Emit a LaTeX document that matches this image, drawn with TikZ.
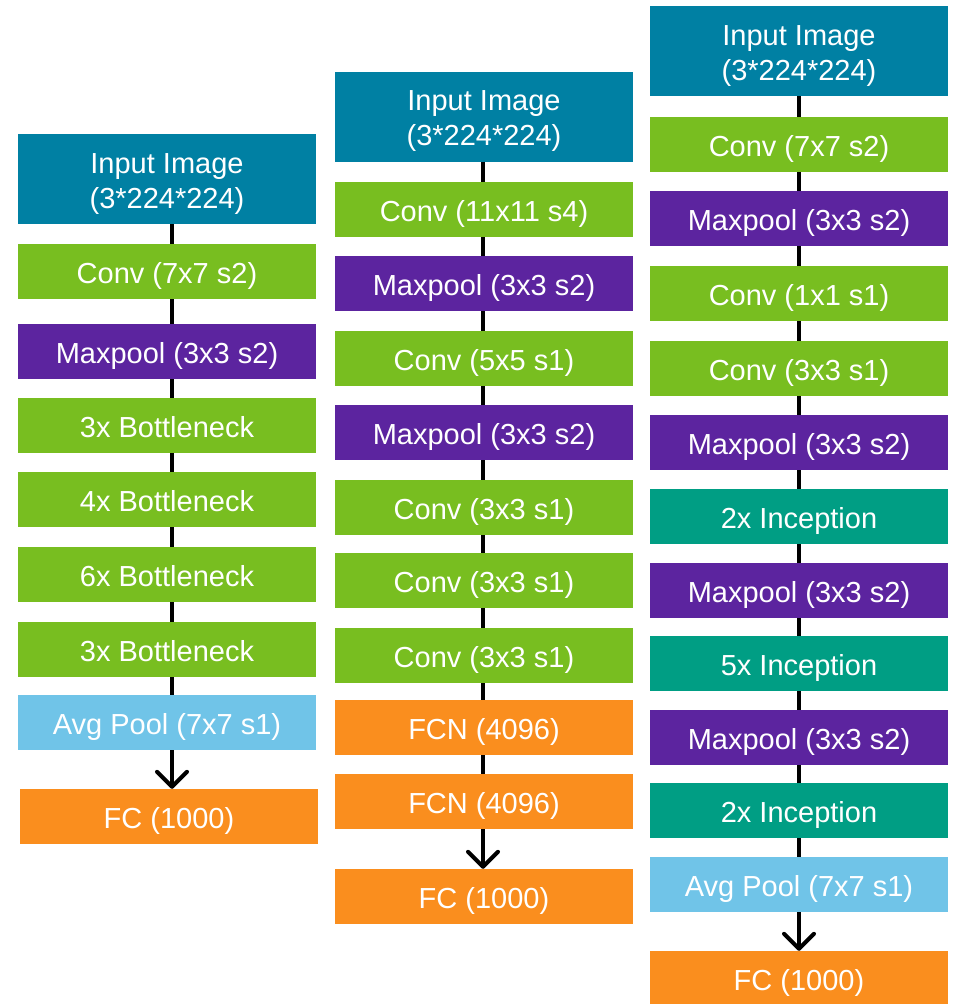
\documentclass[tikz,border=0pt]{standalone}
\usepackage{fontspec}
\setmainfont{Liberation Sans}
\usepackage{xcolor}
\usetikzlibrary{arrows.meta, positioning}

\definecolor{inputblue}{RGB}{0,128,163}
\definecolor{convgreen}{RGB}{120,190,32}
\definecolor{poolpurple}{RGB}{92,36,159}
\definecolor{inceptgreen}{RGB}{0,158,132}
\definecolor{avgblue}{RGB}{112,196,232}
\definecolor{fcorange}{RGB}{250,142,30}

\tikzset{
  layer/.style={minimum width=298pt, minimum height=55pt, inner sep=0pt, text=white,
    font=\fontsize{29}{35}\selectfont, align=center, text height=26pt, text depth=3pt},
  inimg/.style={layer, fill=inputblue, minimum height=90pt, text height=61pt, text depth=3pt},
  conv/.style={layer, fill=convgreen},
  pool/.style={layer, fill=poolpurple},
  incep/.style={layer, fill=inceptgreen},
  avg/.style={layer, fill=avgblue},
  fc/.style={layer, fill=fcorange},
  link/.style={line width=4pt},
  lastlink/.style={link, -{Straight Barb[length=15pt,width=30pt,line cap=round,line join=round]}}
}

\begin{document}
\begin{tikzpicture}[x=1pt, y=-1pt]
\useasboundingbox (0,0) rectangle (957,1004);
% first column
\foreach \i/\y/\s/\t in {1/179/inimg/{Input Image\\(3*224*224)}, 2/271.5/conv/{Conv (7x7 s2)},
  3/351.5/pool/{Maxpool (3x3 s2)}, 4/425.5/conv/{3x Bottleneck}, 5/499.5/conv/{4x Bottleneck},
  6/574.5/conv/{6x Bottleneck}, 7/649.5/conv/{3x Bottleneck}, 8/722.5/avg/{Avg Pool (7x7 s1)}}
  \node[\s] (a\i) at (167,\y) {\t};
\node[fc] (a9) at (169,816.5) {FC (1000)};
\foreach \i [count=\k from 2] in {1,...,7} \draw[link] ([xshift=5pt]a\i.south) -- ([xshift=5pt]a\k.north);
\draw[lastlink] ([xshift=5pt]a8.south) -- ([xshift=5pt]a8.south |- a9.north);
% second column
\foreach \i/\y/\s/\t in {1/116.5/inimg/{Input Image\\(3*224*224)}, 2/209.5/conv/{Conv (11x11 s4)},
  3/283.5/pool/{Maxpool (3x3 s2)}, 4/358.5/conv/{Conv (5x5 s1)}, 5/432.5/pool/{Maxpool (3x3 s2)},
  6/507.5/conv/{Conv (3x3 s1)}, 7/580.5/conv/{Conv (3x3 s1)}, 8/655.5/conv/{Conv (3x3 s1)},
  9/727.5/fc/{FCN (4096)}, 10/801.5/fc/{FCN (4096)}, 11/896.5/fc/{FC (1000)}}
  \node[\s] (b\i) at (484,\y) {\t};
\foreach \i [count=\k from 2] in {1,...,9} \draw[link] ([xshift=-1pt]b\i.south) -- ([xshift=-1pt]b\k.north);
\draw[lastlink] ([xshift=-1pt]b10.south) -- ([xshift=-1pt]b11.north);
% third column
\foreach \i/\y/\s/\t in {1/51/inimg/{Input Image\\(3*224*224)}, 2/144.5/conv/{Conv (7x7 s2)},
  3/218.5/pool/{Maxpool (3x3 s2)}, 4/293.5/conv/{Conv (1x1 s1)}, 5/368.5/conv/{Conv (3x3 s1)},
  6/442.5/pool/{Maxpool (3x3 s2)}, 7/516.5/incep/{2x Inception}, 8/590.5/pool/{Maxpool (3x3 s2)},
  9/663.5/incep/{5x Inception}, 10/737.5/pool/{Maxpool (3x3 s2)}, 11/810.5/incep/{2x Inception},
  12/884.5/avg/{Avg Pool (7x7 s1)}, 13/978.5/fc/{FC (1000)}}
  \node[\s] (c\i) at (799,\y) {\t};
\foreach \i [count=\k from 2] in {1,...,11} \draw[link] (c\i.south) -- (c\k.north);
\draw[lastlink] (c12.south) -- (c13.north);
\end{tikzpicture}
\end{document}
